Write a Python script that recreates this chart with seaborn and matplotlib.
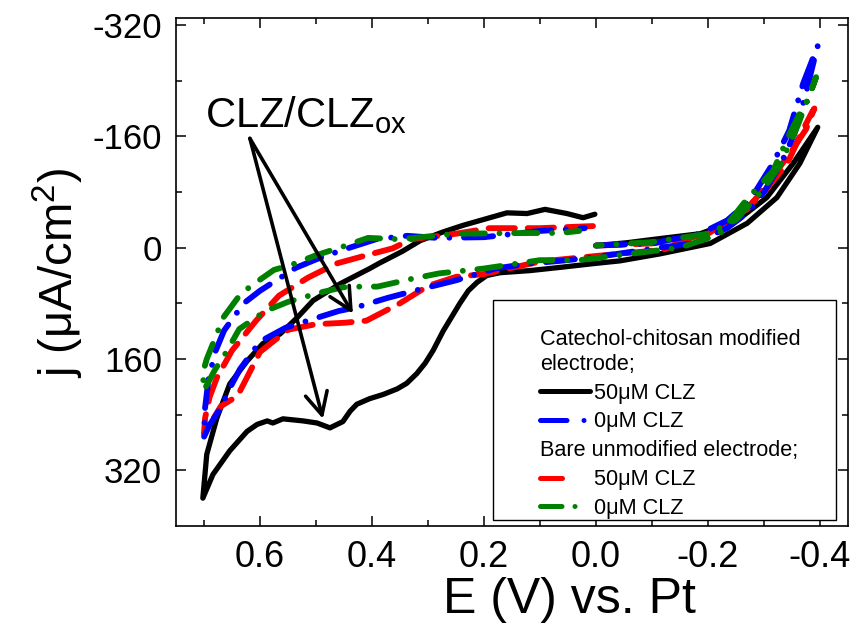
import matplotlib
matplotlib.use('Agg')
import matplotlib.pyplot as plt
import matplotlib.transforms as mtransforms
from matplotlib.lines import Line2D
from matplotlib.patches import Rectangle
import seaborn as sns

sns.set_style('ticks')
plt.rcParams['font.family'] = ['Liberation Sans', 'DejaVu Sans']
plt.rcParams['mathtext.fontset'] = 'custom'
plt.rcParams['mathtext.rm'] = 'Liberation Sans'
plt.rcParams['mathtext.it'] = 'Liberation Sans:italic'
plt.rcParams['axes.unicode_minus'] = False
for k in ['text.color', 'axes.labelcolor', 'xtick.color', 'ytick.color']:
    plt.rcParams[k] = 'black'

# CV curves (E in V, j in uA/cm2)
# modified electrode, 50 uM CLZ
black_E = [0.0, -0.055, -0.114, -0.186, -0.252, -0.305, -0.352, -0.396,
           -0.364, -0.323, -0.27, -0.204, -0.114, -0.043, 0.005, 0.06, 0.118, 0.171,
           0.195, 0.2125, 0.228, 0.243, 0.258, 0.273, 0.291, 0.305, 0.32, 0.338, 0.355,
           0.38, 0.404, 0.427, 0.439, 0.452, 0.475,
           0.498, 0.523, 0.559, 0.577, 0.587, 0.605, 0.623, 0.654, 0.684, 0.702,
           0.695, 0.677, 0.654, 0.623, 0.595, 0.564, 0.534, 0.505, 0.457, 0.404, 0.386,
           0.345, 0.314, 0.275, 0.2375, 0.207, 0.159, 0.123, 0.091, 0.052, 0.023, 0.002]
black_j = [-3, -7, -13, -20, -39, -72, -121, -173,
           -121, -72, -35, -6, 9, 19, 23, 28, 33, 36,
           40, 50, 62, 80, 100, 120, 148, 166, 181, 195, 203,
           211, 217, 225, 235, 250, 259,
           252, 249, 246, 252, 249, 254, 264, 292, 326, 360,
           297, 245, 196, 163, 138, 124, 101, 76, 52, 30, 22,
           5, -10, -22, -32, -39, -50, -49, -55, -49, -43, -48]

# modified electrode, 0 uM CLZ
blue_E = [0.0, -0.1, -0.186, -0.234, -0.275, -0.316, -0.345, -0.37, -0.396,
          -0.388, -0.375, -0.355, -0.33, -0.3, -0.27, -0.234, -0.173, -0.114, -0.055,
          0.005, 0.064, 0.12, 0.18, 0.25, 0.31, 0.371, 0.429, 0.459, 0.487, 0.554,
          0.6, 0.636, 0.654, 0.67, 0.69, 0.70,
          0.698, 0.692, 0.68, 0.664, 0.629, 0.6, 0.571, 0.536, 0.5, 0.455, 0.393,
          0.337, 0.284, 0.2, 0.1, 0.02]
blue_j = [-3, -6, -20, -39, -68, -121, -168, -236, -290,
          -265, -222, -165, -120, -80, -50, -28, -6, 0, 7,
          14, 19, 23, 30, 47, 59, 72, 86, 91, 98, 115,
          135, 175, 202, 230, 255, 272,
          230, 190, 150, 119, 80, 62, 47, 29, 17, 4, -12,
          -17, -14, -15, -24, -28]

# bare electrode, 50 uM CLZ
red_E = [0.0, -0.1, -0.18, -0.22, -0.27, -0.31, -0.35, -0.375, -0.39,
         -0.386, -0.37, -0.341, -0.3, -0.26, -0.2, -0.12, 0.0, 0.1, 0.2, 0.25,
         0.3, 0.35, 0.41, 0.45, 0.5, 0.55, 0.6, 0.64, 0.67, 0.70,
         0.698, 0.69, 0.677, 0.65, 0.607, 0.566, 0.514, 0.464, 0.41, 0.363,
         0.33, 0.25, 0.19, 0.1, 0.005]
red_j = [-3, -6, -16, -32, -55, -95, -140, -170, -200,
         -195, -170, -120, -80, -50, -20, 3, 12, 20, 38, 42,
         55, 80, 105, 108, 110, 118, 150, 213, 228, 268,
         245, 215, 187, 148, 105, 69, 43, 23, 11, 1,
         -12, -20, -28, -28, -31]

# bare electrode, 0 uM CLZ
green_E = [0.0, -0.1, -0.2, -0.25, -0.3, -0.33, -0.36, -0.393,
           -0.38, -0.364, -0.346, -0.316, -0.27, -0.22, -0.15, -0.05, 0.03, 0.1,
           0.2, 0.28, 0.33, 0.39, 0.42, 0.452, 0.495, 0.55, 0.59, 0.637, 0.66, 0.68, 0.70,
           0.702, 0.695, 0.68, 0.666, 0.634, 0.607, 0.575, 0.545, 0.5, 0.45, 0.407,
           0.35, 0.3, 0.25, 0.13, 0.064, 0.03]
green_j = [-3, -8, -20, -40, -85, -120, -175, -245,
           -215, -193, -164, -110, -70, -19, 0, 10, 18, 18,
           30, 37, 45, 56, 56, 57, 65, 78, 91, 117, 150, 175, 205,
           180, 160, 130, 101, 66, 50, 32, 25, 11, -2, -14,
           -12, -16, -20, -21, -21, -24]

x_ticks = [0.6, 0.4, 0.2, 0.0, -0.2, -0.4]
x_labels = ['0.6', '0.4', '0.2', '0.0', '-0.2', '-0.4']
y_ticks = [-320, -160, 0, 160, 320]
y_labels = ['-320', '-160', '0', '160', '320']

legend_labels = ['Catechol-chitosan modified\nelectrode;', '50μM CLZ', '0μM CLZ',
                 'Bare unmodified electrode;', '50μM CLZ', '0μM CLZ']

fig = plt.figure(figsize=(8.55, 6.27), dpi=100)
ax = fig.add_axes([0.2058, 0.1611, 0.786, 0.8102])

dashdot = (0, (5, 2.5, 0.01, 2.5))
sns.lineplot(x=black_E, y=black_j, sort=False, estimator=None, color='black',
             lw=3.8, solid_capstyle='round', solid_joinstyle='round', ax=ax)
sns.lineplot(x=red_E, y=red_j, sort=False, estimator=None, color='#ff0000',
             lw=4.2, linestyle=(0, (4.5, 2.2)), dash_capstyle='round', ax=ax)
sns.lineplot(x=blue_E, y=blue_j, sort=False, estimator=None, color='#0000ff',
             lw=4.2, linestyle=dashdot, dash_capstyle='round', ax=ax)
sns.lineplot(x=green_E, y=green_j, sort=False, estimator=None, color='#008000',
             lw=4.2, linestyle=(3, (4, 2.5, 0.01, 2.5)), dash_capstyle='round', ax=ax)

ax.set_xlim(0.75, -0.45)
ax.set_ylim(400, -330)
ax.set_xticks(x_ticks)
ax.set_xticklabels(x_labels)
ax.set_yticks(y_ticks)
ax.set_yticklabels(y_labels)
ax.set_xticks([0.7, 0.5, 0.3, 0.1, -0.1, -0.3], minor=True)
ax.set_yticks([-240, -80, 80, 240], minor=True)
ax.tick_params(which='both', direction='in', top=True, right=True, width=1.1)
ax.tick_params(which='major', length=7)
ax.tick_params(which='minor', length=4)
ax.tick_params(axis='x', labelsize=26, pad=10)
ax.tick_params(axis='y', labelsize=25, pad=10)
for s in ax.spines.values():
    s.set_linewidth(1.2)
    s.set_color('black')

ax.set_xlabel('E (V) vs. Pt', fontsize=36)
ax.xaxis.set_label_coords(0.585, -0.100)
ax.set_ylabel('j (μA/cm$^{2}$)', fontsize=34)
ax.yaxis.set_label_coords(-0.134, 0.498)

# annotation
ax.text(0.698, -173, 'CLZ/CLZ$_{\\mathrm{ox}}$', fontsize=30, ha='left', va='baseline')
for tip in [(0.4875, 246), (0.434, 95)]:
    ax.annotate('', xy=tip, xytext=(0.618, -157),
                arrowprops=dict(arrowstyle='->,head_length=0.8,head_width=0.4',
                                lw=2.6, color='black', shrinkA=0, shrinkB=0,
                                mutation_scale=20))

# legend with a separate frame
ax.add_patch(Rectangle((0.472, 0.012), 0.510, 0.433, transform=ax.transAxes,
                       facecolor='white', edgecolor='black', lw=1, zorder=4))
handles = [Line2D([], [], color='none'),
           Line2D([], [], color='black', lw=3.6, solid_capstyle='round'),
           Line2D([], [], color='#0000ff', lw=3.6, ls=(0, (5.3, 3.4, 0.01, 10)),
                  dash_capstyle='round'),
           Line2D([], [], color='none'),
           Line2D([], [], color='#ff0000', lw=3.6, ls=(0, (4.4, 10)),
                  dash_capstyle='round'),
           Line2D([], [], color='#008000', lw=3.6, ls=(0, (4.3, 2.6, 0.01, 10)),
                  dash_capstyle='round')]
hl, hp, fs = 2.3, 0.2, 15.6
leg = ax.legend(handles, legend_labels, loc='upper left', bbox_to_anchor=(0.5417, 0.388),
                frameon=False, fontsize=fs, handlelength=hl, handletextpad=hp,
                labelspacing=0.36, borderpad=0, borderaxespad=0)
leg.set_zorder(5)
shift = (hl + hp) * fs * fig.dpi / 72
texts = leg.get_texts()
for i in (0, 3):
    t = texts[i]
    t.set_linespacing(1.25)
    t.set_transform(t.get_transform() + mtransforms.Affine2D().translate(-shift, 0))

fig.savefig('out.png', dpi=100)
